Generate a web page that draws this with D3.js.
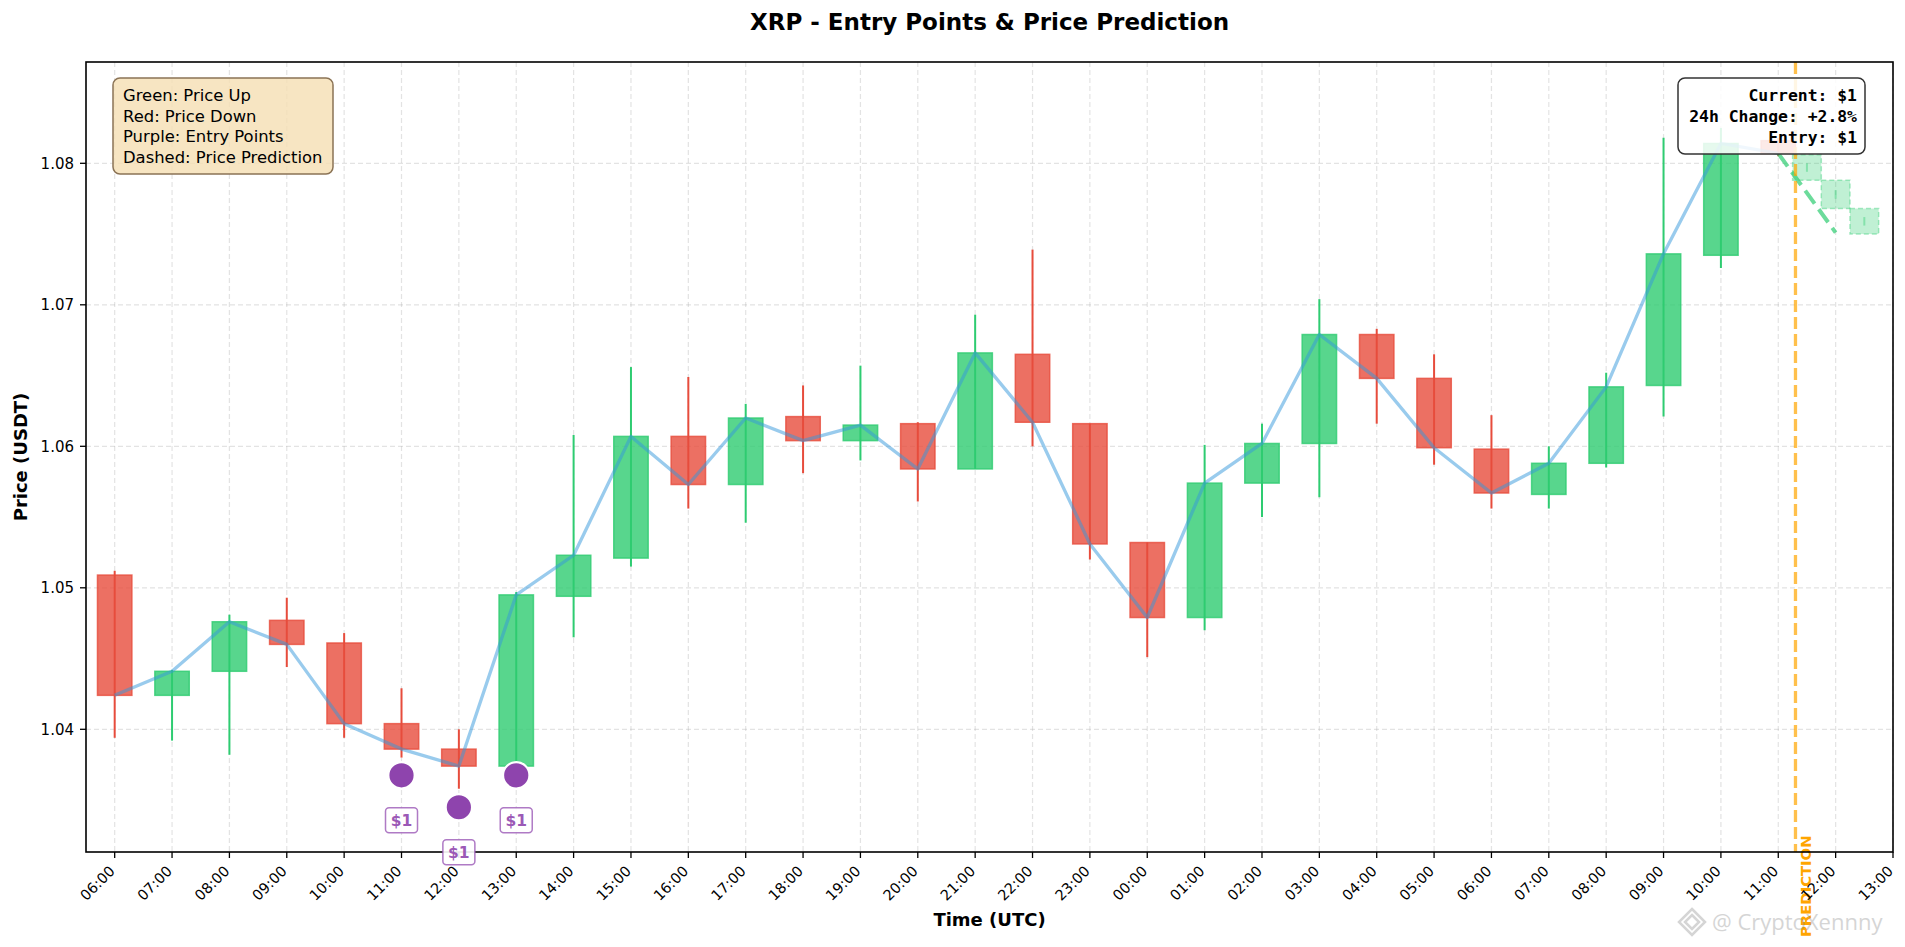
<!DOCTYPE html>
<html>
<head>
<meta charset="utf-8">
<script src="https://d3js.org/d3.v7.min.js"></script>
<style>
body { margin: 0; background: #fff; }
svg { display: block; font-family: "DejaVu Sans", sans-serif; }
</style>
</head>
<body>
<svg id="chart" width="1905" height="947"></svg>
<script>
// tick labels (hours, UTC)
var timeLabels = ["06:00","07:00","08:00","09:00","10:00","11:00","12:00","13:00","14:00","15:00",
	"16:00","17:00","18:00","19:00","20:00","21:00","22:00","23:00","00:00","01:00",
	"02:00","03:00","04:00","05:00","06:00","07:00","08:00","09:00","10:00","11:00",
	"12:00","13:00"];
var priceTicks = [1.04, 1.05, 1.06, 1.07, 1.08];

// candles
var opens  = [1.0509,1.0424,1.0441,1.0477,1.0461,1.0404,1.0386,1.0374,1.0494,1.0521,
	1.0607,1.0573,1.0621,1.0604,1.0616,1.0584,1.0665,1.0616,1.0532,1.0479,
	1.0574,1.0602,1.0679,1.0648,1.0598,1.0566,1.0588,1.0643,1.0735,1.0816];
var closes = [1.0424,1.0441,1.0476,1.0460,1.0404,1.0386,1.0374,1.0495,1.0523,1.0607,
	1.0573,1.0620,1.0604,1.0615,1.0584,1.0666,1.0617,1.0531,1.0479,1.0574,
	1.0602,1.0679,1.0648,1.0599,1.0567,1.0588,1.0642,1.0736,1.0814,1.0807];
var highs  = [1.0512,1.0442,1.0481,1.0493,1.0468,1.0429,1.0400,1.0497,1.0608,1.0656,
	1.0649,1.0630,1.0643,1.0657,1.0617,1.0693,1.0739,1.0616,1.0532,1.0601,
	1.0616,1.0704,1.0683,1.0665,1.0622,1.0600,1.0652,1.0818,1.0825,1.0818];
var lows   = [1.0394,1.0392,1.0382,1.0444,1.0394,1.0380,1.0358,1.0372,1.0465,1.0515,
	1.0556,1.0546,1.0581,1.0590,1.0561,1.0584,1.0600,1.0520,1.0451,1.0470,
	1.0550,1.0564,1.0616,1.0587,1.0556,1.0556,1.0585,1.0621,1.0726,1.0805];

// entry points
var entryIdx = [5, 6, 7];
var entryPrice = [1.03675, 1.03449, 1.03675];
var entryText = ["$1", "$1", "$1"];

// prediction
var predX = [29.5, 30, 30.5];
var predOpen = [1.0806, 1.0788, 1.0768];
var predClose = [1.0788, 1.0768, 1.0750];
var predHigh = [1.0800, 1.0781, 1.0762];
var predLow = [1.0794, 1.0775, 1.0756];
var predLineX = [29, 30];
var predLineY = [1.0807, 1.0751];
var predictionX = 29.3;

var legendLines = ["Green: Price Up", "Red: Price Down", "Purple: Entry Points", "Dashed: Price Prediction"];
var infoLines = ["Current: $1", "24h Change: +2.8%", "Entry: $1"];

var GREEN = "#2ecc71", RED = "#e74c3c", PURPLE = "#8e44ad";

var svg = d3.select("#chart");
var pL = 86, pR = 1893, pT = 62, pB = 852;

var x = d3.scaleLinear().domain([-0.5, 31]).range([pL, pR]);
var y = d3.scaleLinear().domain([1.031329, 1.087159]).range([pB, pT]);

// clip for plot area
svg.append("defs").append("clipPath").attr("id", "plotclip")
	.append("rect").attr("x", pL).attr("y", pT).attr("width", pR - pL).attr("height", pB - pT);

// grid
var grid = svg.append("g").attr("stroke", "#b0b0b0").attr("stroke-opacity", 0.35)
	.attr("stroke-width", 1.2).attr("stroke-dasharray", "5,3");
grid.selectAll(".gx").data(timeLabels).enter().append("line")
	.attr("x1", function(d, i){ return x(i); }).attr("x2", function(d, i){ return x(i); })
	.attr("y1", pT).attr("y2", pB);
grid.selectAll(".gy").data(priceTicks).enter().append("line")
	.attr("x1", pL).attr("x2", pR)
	.attr("y1", function(d){ return y(d); }).attr("y2", function(d){ return y(d); });

var plot = svg.append("g").attr("clip-path", "url(#plotclip)");

// candles: wick then body
var bw = (x(1) - x(0)) * 0.6;
opens.forEach(function(o, i){
	var c = closes[i];
	var col = c >= o ? GREEN : RED;
	plot.append("line")
		.attr("x1", x(i)).attr("x2", x(i))
		.attr("y1", y(highs[i])).attr("y2", y(lows[i]))
		.attr("stroke", col).attr("stroke-width", 2);
	plot.append("rect")
		.attr("x", x(i) - bw / 2).attr("width", bw)
		.attr("y", y(Math.max(o, c))).attr("height", Math.max(1, Math.abs(y(o) - y(c))))
		.attr("fill", col).attr("fill-opacity", 0.8)
		.attr("stroke", col).attr("stroke-opacity", 0.8).attr("stroke-width", 1.5);
});

// close price line
var line = d3.line().x(function(d, i){ return x(i); }).y(function(d){ return y(d); });
plot.append("path").datum(closes).attr("d", line)
	.attr("fill", "none").attr("stroke", "#3498db").attr("stroke-opacity", 0.5).attr("stroke-width", 3.3)
	.attr("stroke-linejoin", "round");

// prediction candles
var pw = (x(1) - x(0)) * 0.5;
predX.forEach(function(px, i){
	plot.append("rect")
		.attr("x", x(px) - pw / 2).attr("width", pw)
		.attr("y", y(predOpen[i])).attr("height", y(predClose[i]) - y(predOpen[i]))
		.attr("fill", GREEN).attr("fill-opacity", 0.3)
		.attr("stroke", GREEN).attr("stroke-opacity", 0.4).attr("stroke-width", 1.5)
		.attr("stroke-dasharray", "5,3");
	plot.append("line")
		.attr("x1", x(px)).attr("x2", x(px))
		.attr("y1", y(predHigh[i])).attr("y2", y(predLow[i]))
		.attr("stroke", GREEN).attr("stroke-opacity", 0.4).attr("stroke-width", 2);
});

// prediction dashed line
plot.append("line")
	.attr("x1", x(predLineX[0])).attr("y1", y(predLineY[0]))
	.attr("x2", x(predLineX[1])).attr("y2", y(predLineY[1]))
	.attr("stroke", GREEN).attr("stroke-opacity", 0.7).attr("stroke-width", 4)
	.attr("stroke-dasharray", "16,7");

// prediction marker line
svg.append("line")
	.attr("x1", x(predictionX)).attr("x2", x(predictionX))
	.attr("y1", pT).attr("y2", pB)
	.attr("stroke", "#ffa500").attr("stroke-opacity", 0.7).attr("stroke-width", 3.3)
	.attr("stroke-dasharray", "12,5");
svg.append("text")
	.attr("transform", "translate(" + (x(predictionX) + 16) + "," + 937 + ") rotate(-90)")
	.attr("fill", "#ffa500").attr("font-weight", "bold").attr("font-size", "14.8px")
	.text("PREDICTION");

// axes frame
svg.append("rect").attr("x", pL).attr("y", pT).attr("width", pR - pL).attr("height", pB - pT)
	.attr("fill", "none").attr("stroke", "#000").attr("stroke-width", 1.6);

var yt = svg.append("g");
priceTicks.forEach(function(p){
	yt.append("line").attr("x1", pL - 6).attr("x2", pL).attr("y1", y(p)).attr("y2", y(p))
		.attr("stroke", "#000").attr("stroke-width", 1.3);
	yt.append("text").attr("x", pL - 12).attr("y", y(p) + 5.3).attr("text-anchor", "end")
		.attr("font-size", "15px").attr("fill", "#000").text(d3.format(".2f")(p));
});

var xt = svg.append("g");
timeLabels.forEach(function(t, i){
	xt.append("line").attr("x1", x(i)).attr("x2", x(i)).attr("y1", pB).attr("y2", pB + 6)
		.attr("stroke", "#000").attr("stroke-width", 1.3);
	xt.append("text")
		.attr("transform", "translate(" + (x(i) + 1) + "," + (pB + 20) + ") rotate(-45)")
		.attr("text-anchor", "end").attr("font-size", "14.5px").attr("fill", "#000").text(t);
});

// entry points (on top of the frame)
entryIdx.forEach(function(ix, i){
	svg.append("circle")
		.attr("cx", x(ix)).attr("cy", y(entryPrice[i])).attr("r", 13.2)
		.attr("fill", PURPLE).attr("stroke", "#fff").attr("stroke-width", 2.2);
	var ly = y(entryPrice[i]) + 45;
	svg.append("rect")
		.attr("x", x(ix) - 16).attr("y", ly - 12.5).attr("width", 32).attr("height", 25)
		.attr("rx", 3.5).attr("fill", "#fff").attr("fill-opacity", 0.9)
		.attr("stroke", "#9b59b6").attr("stroke-opacity", 0.8).attr("stroke-width", 1.5);
	svg.append("text")
		.attr("x", x(ix)).attr("y", ly + 5.8).attr("text-anchor", "middle")
		.attr("fill", "#9b59b6").attr("font-weight", "bold").attr("font-size", "15.5px")
		.text(entryText[i]);
});

// titles
svg.append("text").attr("x", (pL + pR) / 2).attr("y", 30).attr("text-anchor", "middle")
	.attr("font-weight", "bold").attr("font-size", "23px").text("XRP - Entry Points & Price Prediction");
svg.append("text").attr("x", (pL + pR) / 2).attr("y", 926).attr("text-anchor", "middle")
	.attr("font-weight", "bold").attr("font-size", "18px").text("Time (UTC)");
svg.append("text").attr("transform", "translate(27," + ((pT + pB) / 2) + ") rotate(-90)")
	.attr("text-anchor", "middle").attr("font-weight", "bold").attr("font-size", "18px").text("Price (USDT)");

// legend box
svg.append("rect").attr("x", 113).attr("y", 78).attr("width", 220).attr("height", 96).attr("rx", 7)
	.attr("fill", "#f5deb3").attr("fill-opacity", 0.8).attr("stroke", "#8b7355").attr("stroke-width", 1.5);
legendLines.forEach(function(s, i){
	svg.append("text").attr("x", 123).attr("y", 101 + i * 20.6)
		.attr("font-size", "16.4px").attr("fill", "#000").text(s);
});

// info box
svg.append("rect").attr("x", 1678).attr("y", 78).attr("width", 187).attr("height", 76).attr("rx", 7)
	.attr("fill", "#fff").attr("fill-opacity", 0.85).attr("stroke", "#333").attr("stroke-width", 1.5);
infoLines.forEach(function(s, i){
	svg.append("text").attr("x", 1857).attr("y", 101 + i * 20.8).attr("text-anchor", "end")
		.attr("font-family", "DejaVu Sans Mono, monospace").attr("font-weight", "bold")
		.attr("font-size", "16.4px").attr("fill", "#000").text(s);
});

// watermark
var wm = svg.append("g").attr("opacity", 0.35);
wm.append("path")
	.attr("d", "M1692,909 L1705,922 L1692,935 L1679,922 Z M1692,915 L1699,922 L1692,929 L1685,922 Z")
	.attr("fill", "none").attr("stroke", "#888").attr("stroke-width", 2.5);
wm.append("text").attr("x", 1712).attr("y", 930).attr("font-family", "Open Sans, sans-serif")
	.attr("font-size", "22px").attr("fill", "#888").text("@ CryptoXennny");
</script>
</body>
</html>
